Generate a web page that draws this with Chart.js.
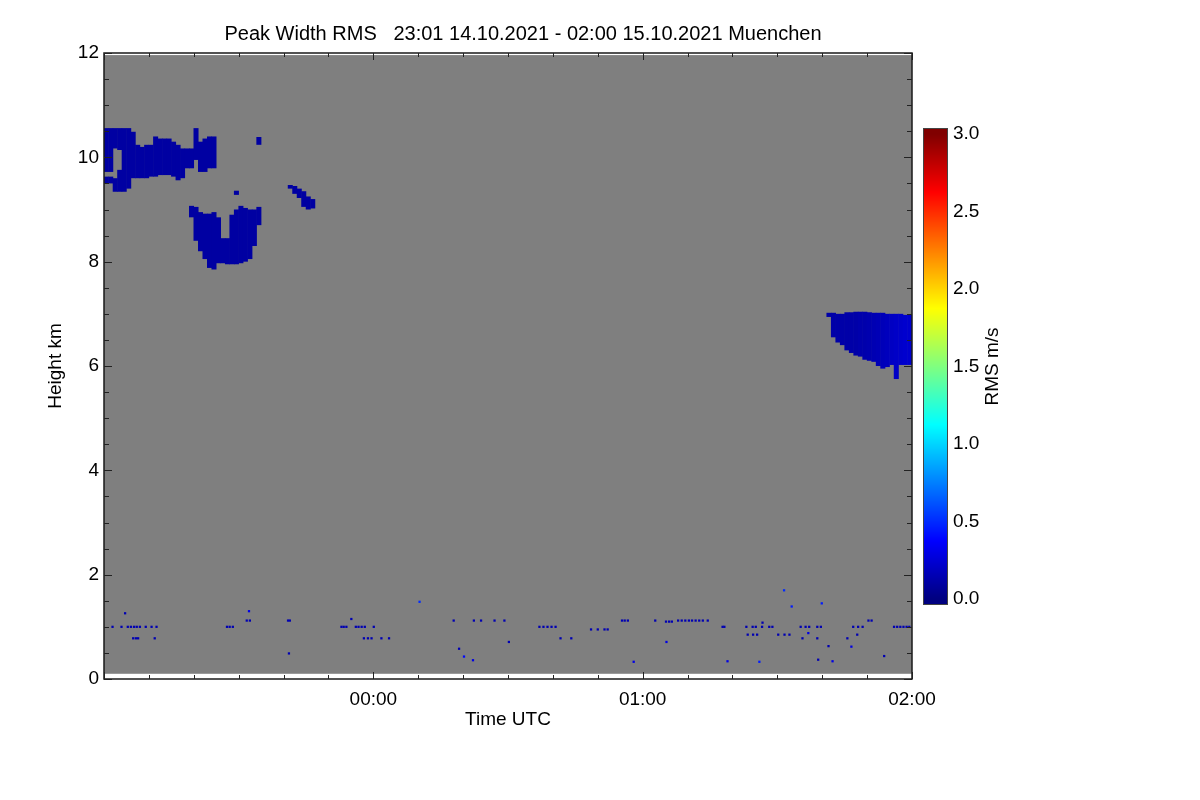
<!DOCTYPE html>
<html>
<head>
<meta charset="utf-8">
<title>Peak Width RMS</title>
<script src="https://cdn.jsdelivr.net/npm/chart.js@4.4.1/dist/chart.umd.min.js"></script>
<style>
  html, body { margin: 0; padding: 0; background: #fff; }
</style>
</head>
<body>
<canvas id="chart" width="1200" height="800"></canvas>
<script>
const FONT = '"Liberation Sans", Arial, Helvetica, sans-serif';
const TITLE = 'Peak Width RMS   23:01 14.10.2021 - 02:00 15.10.2021 Muenchen';

// axes: minutes after 23:00 UTC, height in km
const timeTickMinutes = [60, 120, 180];
const timeTickLabels = ['00:00', '01:00', '02:00'];
const heightTicks = [0, 2, 4, 6, 8, 10, 12];
const rmsTicks = [0.0, 0.5, 1.0, 1.5, 2.0, 2.5, 3.0];

// sampled area (grey = no signal)
const sampledMinutes = [0, 180];
const sampledHeights = [0.1, 11.96];

// upper cirrus, 23:00 - 23:25 (one column per minute, base/top in km)
const cirrusMinutes = [0, 1, 2, 3, 4, 5, 6, 7, 8, 9, 10, 11, 12, 13, 14, 15, 16, 17, 18, 19, 20, 21, 22, 23, 24];
const cirrusBase = [9.72, 9.72, 10.17, 10.14, 9.34, 9.40, 9.60, 9.60, 9.60, 9.60, 9.63, 9.63, 9.66, 9.66, 9.66, 9.63, 9.56, 9.60, 9.79, 9.79, 9.95, 9.72, 9.72, 9.79, 9.79];
const cirrusTop = [10.56, 10.56, 10.56, 10.56, 10.56, 10.56, 10.49, 10.24, 10.20, 10.24, 10.24, 10.40, 10.36, 10.36, 10.36, 10.30, 10.24, 10.17, 10.17, 10.17, 10.56, 10.30, 10.36, 10.40, 10.40];
const cirrusLowMinutes = [0, 1, 2, 3];
const cirrusLowBase = [9.50, 9.50, 9.34, 9.34];
const cirrusLowTop = [9.63, 9.63, 9.60, 9.76];
const cirrusRms = 0.1;

// fall streak below it, 23:19 - 23:35
const streakMinutes = [19, 20, 21, 22, 23, 24, 25, 26, 27, 28, 29, 30, 31, 32, 33, 34];
const streakBase = [8.85, 8.40, 8.20, 8.05, 7.88, 7.85, 7.97, 7.97, 7.95, 7.95, 7.95, 7.97, 8.00, 8.05, 8.30, 8.70];
const streakTop = [9.07, 9.05, 8.95, 8.92, 8.92, 8.95, 8.85, 8.45, 8.45, 8.90, 9.00, 9.07, 9.03, 9.00, 9.00, 9.05];

// small pieces
const pieceMinutes = [29, 34];
const pieceBase = [9.28, 10.24];
const pieceTop = [9.36, 10.39];
const tailMinutes = [41, 42, 43, 44, 45, 46];
const tailBase = [9.40, 9.30, 9.22, 9.05, 9.00, 9.02];
const tailTop = [9.47, 9.45, 9.40, 9.35, 9.25, 9.20];

// mid level cloud, 01:41 - 02:00
const midMinutes = [161, 162, 163, 164, 165, 166, 167, 168, 169, 170, 171, 172, 173, 174, 175, 176, 177, 178, 179];
const midBase = [6.94, 6.55, 6.45, 6.40, 6.30, 6.25, 6.20, 6.18, 6.12, 6.10, 6.08, 6.00, 5.95, 5.98, 6.02, 5.75, 6.02, 6.02, 6.02];
const midTop = [7.02, 7.02, 7.00, 7.00, 7.03, 7.03, 7.04, 7.04, 7.04, 7.03, 7.02, 7.02, 7.02, 7.00, 7.00, 7.00, 7.00, 6.98, 6.98];
const midRms = [0.12, 0.12, 0.12, 0.12, 0.12, 0.12, 0.12, 0.13, 0.13, 0.14, 0.15, 0.16, 0.17, 0.18, 0.20, 0.21, 0.22, 0.23, 0.23];

// boundary layer echoes: rows of single gates
const gateRowHeights = [1.00, 0.95, 0.78, 0.85, 1.12, 1.10];
const gateRowMinutes = [
  [1.9, 3.9, 5.3, 6.0, 6.7, 7.3, 8.0, 9.3, 10.6, 11.7, 27.4, 28.0, 28.7, 52.9, 53.4, 54.0, 56.1, 56.7, 57.4, 58.1, 60.1,
   97.0, 97.9, 98.8, 99.7, 100.6, 137.8, 138.2, 143.1, 144.5, 145.2, 146.6, 148.2, 148.9, 155.2, 156.3, 157.1, 158.9, 159.7,
   166.9, 168.0, 169.0, 176.0, 176.7, 177.4, 178.1, 178.8, 179.4],
  [108.5, 110.0, 111.5, 112.2],
  [6.5, 7.1, 7.6, 11.3, 57.9, 58.8, 59.6, 61.8, 63.5, 101.7, 104.1, 155.6, 158.9, 165.6],
  [143.4, 144.6, 145.5, 150.2, 151.6, 152.7, 167.8],
  [31.8, 32.5, 41.0, 41.4, 77.9, 82.4, 84.0, 87.0, 89.2, 115.4, 116.0, 116.7, 122.8, 127.9, 128.7, 129.5, 130.3, 131.0,
   131.8, 132.6, 133.4, 134.5, 170.3, 171.0],
  [125.2, 125.9, 126.5]
];
const gateRms = 0.15;
const speckMinutes = [4.7, 32.3, 41.2, 55.1, 70.3, 79.1, 80.2, 82.2, 90.2, 118.0, 125.3, 138.9, 146.0, 146.7, 151.5, 153.2, 156.9, 159.1, 159.9, 161.4, 162.3, 166.5, 173.8];
const speckHeights = [1.26, 1.30, 0.49, 1.15, 1.48, 0.58, 0.43, 0.36, 0.71, 0.33, 0.71, 0.34, 0.33, 1.08, 1.70, 1.39, 0.88, 0.37, 1.45, 0.63, 0.34, 0.62, 0.44];
const speckRms = [0.15, 0.3, 0.15, 0.15, 0.5, 0.15, 0.4, 0.3, 0.15, 0.3, 0.3, 0.3, 0.45, 0.15, 0.5, 0.45, 0.3, 0.15, 0.45, 0.15, 0.3, 0.3, 0.15];

// jet colour table over the colour bar range
function jet(v) {
  const t = Math.min(1, Math.max(0, v / 3));
  const c = k => Math.round(255 * Math.min(1, Math.max(0, 1.5 - Math.abs(4 * t - k))));
  return 'rgb(' + c(3) + ',' + c(2) + ',' + c(1) + ')';
}

function columns(minutes, base, top) {
  return minutes.map((m, i) => ({ x: m + 0.5, y: [base[i], top[i]] }));
}

function cloud(label, data, color) {
  return {
    type: 'bar', label, data, backgroundColor: color,
    grouped: false, barPercentage: 1.12, categoryPercentage: 1,
    borderWidth: 0, borderSkipped: false
  };
}

const gatePoints = [];
gateRowMinutes.forEach((row, r) => row.forEach(m => gatePoints.push({ x: m, y: gateRowHeights[r] })));

const datasets = [
  cloud('cirrus', columns(cirrusMinutes, cirrusBase, cirrusTop), jet(cirrusRms)),
  cloud('cirrus low', columns(cirrusLowMinutes, cirrusLowBase, cirrusLowTop), jet(cirrusRms)),
  cloud('streak', columns(streakMinutes, streakBase, streakTop), jet(cirrusRms)),
  cloud('pieces', columns(pieceMinutes, pieceBase, pieceTop), jet(cirrusRms)),
  cloud('tail', columns(tailMinutes, tailBase, tailTop), jet(cirrusRms)),
  cloud('mid', columns(midMinutes, midBase, midTop), midRms.map(jet)),
  {
    type: 'scatter', label: 'gates', data: gatePoints,
    pointStyle: 'rect', pointRadius: 1.6, borderWidth: 0, backgroundColor: jet(gateRms)
  },
  {
    type: 'scatter', label: 'specks', data: speckMinutes.map((m, i) => ({ x: m, y: speckHeights[i] })),
    pointStyle: 'rect', pointRadius: 1.6, borderWidth: 0, backgroundColor: speckRms.map(jet)
  }
];

// colour bar geometry
const cbBox = { left: 923, right: 948, top: 128, bottom: 605 };
const cbZeroY = 599;
const cbPxPerUnit = 155;

const frameDecor = {
  id: 'frameDecor',
  beforeDatasetsDraw(chart) {
    const { ctx, scales: { x, y } } = chart;
    const l = x.getPixelForValue(sampledMinutes[0]);
    const r = x.getPixelForValue(sampledMinutes[1]);
    const t = y.getPixelForValue(sampledHeights[1]);
    const b = y.getPixelForValue(sampledHeights[0]);
    ctx.save();
    ctx.fillStyle = '#7f7f7f';
    ctx.fillRect(l, t, r - l, b - t);
    ctx.restore();
  },
  afterDraw(chart) {
    const { ctx, chartArea: a, scales: { x, y } } = chart;
    ctx.save();
    ctx.strokeStyle = '#1a1a1a';
    ctx.lineWidth = 1.5;
    ctx.strokeRect(a.left, a.top, a.right - a.left, a.bottom - a.top);

    // inward ticks
    ctx.lineWidth = 1;
    ctx.strokeStyle = '#222';
    ctx.beginPath();
    for (let m = 0; m <= 180; m += 10) {
      const px = Math.round(x.getPixelForValue(m)) + 0.5;
      const len = m % 60 === 0 ? 7 : 4;
      ctx.moveTo(px, a.bottom); ctx.lineTo(px, a.bottom - len);
      ctx.moveTo(px, a.top); ctx.lineTo(px, a.top + len);
    }
    for (let h = 0; h <= 12; h += 0.5) {
      const py = Math.round(y.getPixelForValue(h)) + 0.5;
      const len = h % 2 === 0 ? 8 : 5;
      ctx.moveTo(a.left, py); ctx.lineTo(a.left + len, py);
      ctx.moveTo(a.right, py); ctx.lineTo(a.right - len, py);
    }
    ctx.stroke();

    // colour bar
    for (let yy = cbBox.top; yy < cbBox.bottom; yy++) {
      ctx.fillStyle = jet((cbZeroY - yy - 0.5) / cbPxPerUnit);
      ctx.fillRect(cbBox.left, yy, cbBox.right - cbBox.left, 1);
    }
    ctx.strokeStyle = '#444';
    ctx.strokeRect(cbBox.left + 0.5, cbBox.top + 0.5, cbBox.right - cbBox.left - 1, cbBox.bottom - cbBox.top - 1);
    ctx.fillStyle = '#000';
    ctx.font = '19px ' + FONT;
    ctx.textAlign = 'left';
    ctx.textBaseline = 'middle';
    rmsTicks.forEach(v => ctx.fillText(v.toFixed(1), 953, cbZeroY - v * cbPxPerUnit));

    ctx.save();
    ctx.translate(993, (cbBox.top + cbBox.bottom) / 2);
    ctx.rotate(-Math.PI / 2);
    ctx.textAlign = 'center';
    ctx.fillText('RMS m/s', 0, 0);
    ctx.restore();

    // title
    ctx.font = '20px ' + FONT;
    ctx.textAlign = 'center';
    ctx.fillText(TITLE, 523, 34);
    ctx.restore();
  }
};

new Chart(document.getElementById('chart'), {
  type: 'bar',
  data: { datasets },
  options: {
    responsive: false,
    animation: false,
    devicePixelRatio: 1,
    events: [],
    layout: { padding: { left: 0, top: 53, right: 288, bottom: 0 } },
    plugins: { legend: { display: false }, tooltip: { enabled: false }, title: { display: false } },
    scales: {
      x: {
        type: 'linear', min: 0, max: 180, offset: false,
        grid: { display: false, drawTicks: false },
        border: { display: false },
        afterBuildTicks: s => { s.ticks = timeTickMinutes.map(v => ({ value: v })); },
        ticks: {
          autoSkip: false, maxRotation: 0, padding: 9, color: '#000',
          font: { size: 19, family: FONT },
          callback: v => timeTickLabels[timeTickMinutes.indexOf(v)] || ''
        },
        title: { display: true, text: 'Time UTC', color: '#000', font: { size: 19, family: FONT }, padding: { bottom: 69 } },
        afterFit: s => { s.height = 121; }
      },
      y: {
        type: 'linear', min: 0, max: 12,
        grid: { display: false, drawTicks: false },
        border: { display: false },
        afterBuildTicks: s => { s.ticks = heightTicks.map(v => ({ value: v })); },
        ticks: { padding: 5, color: '#000', font: { size: 19, family: FONT } },
        title: { display: true, text: 'Height km', color: '#000', font: { size: 19, family: FONT }, padding: { top: 44 } },
        afterFit: s => { s.width = 104; }
      }
    }
  },
  plugins: [frameDecor]
});
</script>
</body>
</html>
